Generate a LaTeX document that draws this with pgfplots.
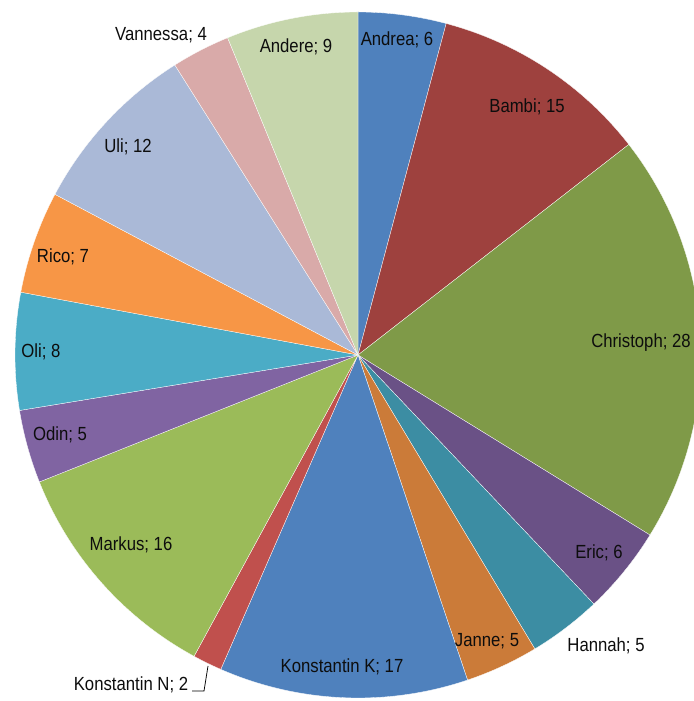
\documentclass[border=0pt]{standalone}
\usepackage{pgfplots}
\pgfplotsset{compat=1.18}
\usepackage{pgfplotstable}
\usepackage{fontspec}
\setmainfont{Liberation Sans}[FakeStretch=0.88]
\definecolor{cA}{HTML}{4F81BD}
\definecolor{cB}{HTML}{9E413E}
\definecolor{cC}{HTML}{7F9A48}
\definecolor{cD}{HTML}{6A5186}
\definecolor{cE}{HTML}{3C8DA3}
\definecolor{cF}{HTML}{CB7B39}
\definecolor{cG}{HTML}{4F81BD}
\definecolor{cH}{HTML}{C0504D}
\definecolor{cI}{HTML}{9BBB59}
\definecolor{cJ}{HTML}{8064A2}
\definecolor{cK}{HTML}{4BACC6}
\definecolor{cL}{HTML}{F79646}
\definecolor{cM}{HTML}{AAB9D7}
\definecolor{cN}{HTML}{D9AAA9}
\definecolor{cO}{HTML}{C6D6AC}
\pgfdeclareplotmark{pieslice}{%
  \pgfpathmoveto{\pgfpointorigin}%
  \pgfpathlineto{\pgfpointpolar{\sa}{343bp}}%
  \pgfpatharc{\sa}{\ea}{343bp}%
  \pgfpathclose
  \pgfusepathqfillstroke}
\pgfplotstableread{
name value col lx ly
Andrea 6 cA 39 315
Bambi 15 cB 169 248
Christoph 28 cC 283 12
Eric 6 cD 241 -198
Hannah 5 cE 248 -291
Janne 5 cF 129 -286
{Konstantin K} 17 cG -16 -312
{Konstantin N} 2 cH -227 -330
Markus 16 cI -227 -190
Odin 5 cJ -298 -80
Oli 8 cK -317 3
Rico 7 cL -295 98
Uli 12 cM -230 208
Vannessa 4 cN -197 320
Andere 9 cO -62 308
}\piedata
\pgfplotstablecreatecol[create col/expr accum={\pgfmathaccuma+\thisrow{value}}{0}]{cum}\piedata
\begin{document}
\begin{tikzpicture}
\begin{axis}[
  scale only axis, width=694bp, height=701bp,
  xmin=-358, xmax=336, ymin=-346, ymax=355,
  hide axis, clip=false,
  /pgf/number format/assume math mode=true,
]
\addplot[scatter, only marks, mark=pieslice,
  point meta=explicit symbolic,
  visualization depends on={90-(\thisrow{cum}-\thisrow{value})*360/145\as\sa},
  visualization depends on={90-\thisrow{cum}*360/145\as\ea},
  scatter/@pre marker code/.code={\scope[fill=\pgfplotspointmeta, draw=white, line width=0.3bp]},
  scatter/@post marker code/.code={\endscope},
] table[x expr=0, y expr=0, meta=col] {\piedata};
\addplot[only marks, mark=none,
  point meta=explicit symbolic,
  visualization depends on={\thisrow{value}\as\val},
  nodes near coords={\pgfplotspointmeta; \pgfmathprintnumber{\val}},
  every node near coord/.append style={anchor=center, inner sep=0pt, text=black!95, font=\fontsize{19bp}{22bp}\selectfont},
] table[x=lx, y=ly, meta=name] {\piedata};
\addplot[black, line width=0.75bp] coordinates {(-166,-336) (-154,-336) (-150,-311)};
\end{axis}
\pgfresetboundingbox
\path[use as bounding box] (current axis.south west) rectangle (current axis.north east);
\end{tikzpicture}
\end{document}
